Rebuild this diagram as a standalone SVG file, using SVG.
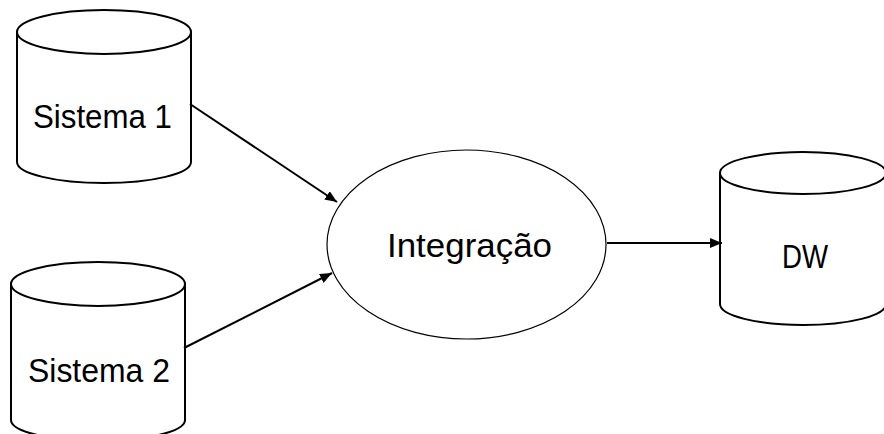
<svg xmlns="http://www.w3.org/2000/svg" width="884" height="434" viewBox="0 0 884 434">
<defs>
<style>
.cyl{fill:#fff;stroke:#000;stroke-width:2}
.lbl{font-family:"Liberation Sans",Arial,sans-serif;font-size:33px;fill:#000}
.conn{stroke:#000;stroke-width:2;fill:none}
</style>
<marker id="ah" viewBox="0 0 12 10" refX="12" refY="5" markerWidth="12" markerHeight="10" markerUnits="userSpaceOnUse" orient="auto">
<path d="M0,0 L12,5 L0,10 Z" fill="#000"/>
</marker>
</defs>
<rect width="884" height="434" fill="#fff"/>
<g id="sistema1">
<path class="cyl" d="M17,32 L17,162 A87,21 0 0 0 191,162 L191,32"/>
<ellipse class="cyl" cx="104" cy="32" rx="87" ry="22"/>
<text class="lbl" x="33" y="128" textLength="139" lengthAdjust="spacingAndGlyphs">Sistema 1</text>
</g>
<g id="sistema2">
<path class="cyl" d="M11,284 L11,420 A87,21 0 0 0 185,420 L185,284"/>
<ellipse class="cyl" cx="98" cy="284" rx="87" ry="22"/>
<text class="lbl" x="28" y="382" textLength="142" lengthAdjust="spacingAndGlyphs">Sistema 2</text>
</g>
<g id="integracao">
<ellipse cx="466.5" cy="244.5" rx="139.5" ry="94.5" fill="#fff" stroke="#000" stroke-width="1.2"/>
<text class="lbl" x="387" y="257" textLength="165" lengthAdjust="spacingAndGlyphs">Integração</text>
</g>
<g id="dw">
<path class="cyl" d="M720,173 L720,304 A83,21 0 0 0 886,304 L886,173"/>
<ellipse class="cyl" cx="803" cy="173" rx="83" ry="21"/>
<text class="lbl" x="782" y="268" textLength="46" lengthAdjust="spacingAndGlyphs">DW</text>
</g>
<g id="connectors">
<line class="conn" x1="190" y1="104" x2="337" y2="202" marker-end="url(#ah)"/>
<line class="conn" x1="184" y1="348" x2="332" y2="273" marker-end="url(#ah)"/>
<line class="conn" x1="607" y1="243" x2="722" y2="243" marker-end="url(#ah)"/>
</g>
</svg>
